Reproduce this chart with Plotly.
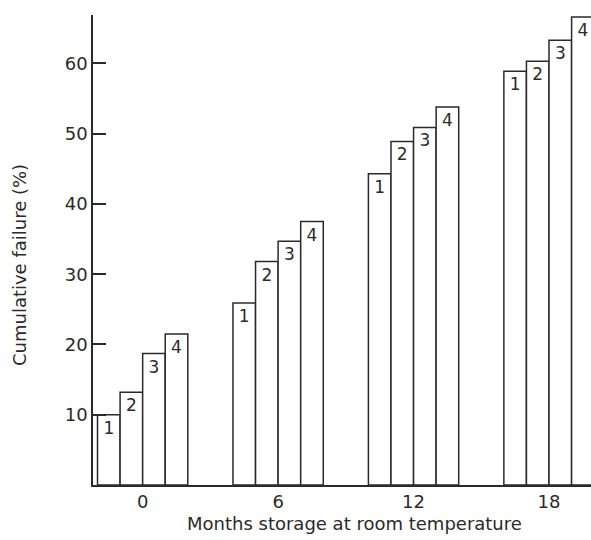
import plotly.graph_objects as go

months = [0, 6, 12, 18]
series_names = ["1", "2", "3", "4"]
series_values = {
    "1": [10.0, 25.9, 44.3, 58.9],
    "2": [13.2, 31.8, 48.9, 60.3],
    "3": [18.7, 34.7, 50.9, 63.3],
    "4": [21.5, 37.5, 53.8, 66.6],
}
y_ticks = [10, 20, 30, 40, 50, 60]
x_tick_labels = ["0", "6", "12", "18"]

FONT = "DejaVu Sans"
INK = "#2a2a2a"

fig = go.Figure()
offsets = [-2, -1, 0, 1]
for name, off in zip(series_names, offsets):
    fig.add_trace(go.Bar(
        x=months,
        y=series_values[name],
        width=1,
        offset=off,
        marker=dict(color="white", line=dict(color=INK, width=1.5)),
        text=[name] * len(months),
        textposition="inside",
        insidetextanchor="end",
        textangle=0,
        textfont=dict(family=FONT, size=17, color=INK),
        showlegend=False,
        hoverinfo="skip",
    ))

fig.update_layout(
    width=591, height=540,
    margin=dict(l=93, r=0, t=15, b=55),
    paper_bgcolor="white", plot_bgcolor="white",
    barmode="overlay",
    font=dict(family=FONT, color=INK),
    xaxis=dict(
        range=[-2.2, 19.86],
        tickvals=months, ticktext=x_tick_labels,
        showline=True, linecolor=INK, linewidth=1.5,
        showgrid=False, zeroline=False, ticks="",
        tickfont=dict(family=FONT, size=18, color=INK),
    ),
    yaxis=dict(
        range=[0, 66.9],
        tickvals=y_ticks,
        showline=True, linecolor=INK, linewidth=1.5,
        showgrid=False, zeroline=False,
        ticks="inside", ticklen=13, tickwidth=1.5, tickcolor=INK,
        tickfont=dict(family=FONT, size=18, color=INK),
    ),
    annotations=[
        dict(text="Months storage at room temperature", xref="paper", yref="paper",
             x=0.526, y=0, yshift=-38, yanchor="middle", xanchor="center", showarrow=False,
             font=dict(family=FONT, size=18, color=INK)),
        dict(text="Cumulative failure (%)", xref="paper", yref="paper",
             x=0, xshift=-74, y=0.468, textangle=-90, xanchor="center", yanchor="middle",
             showarrow=False, font=dict(family=FONT, size=18, color=INK)),
    ],
)

# remove the page's default body margin so the 591x540 figure fills the window exactly
fig.write_html("out.html",
               config={"displayModeBar": False},
               post_script="document.body.style.margin='0';document.body.style.overflow='hidden';")
